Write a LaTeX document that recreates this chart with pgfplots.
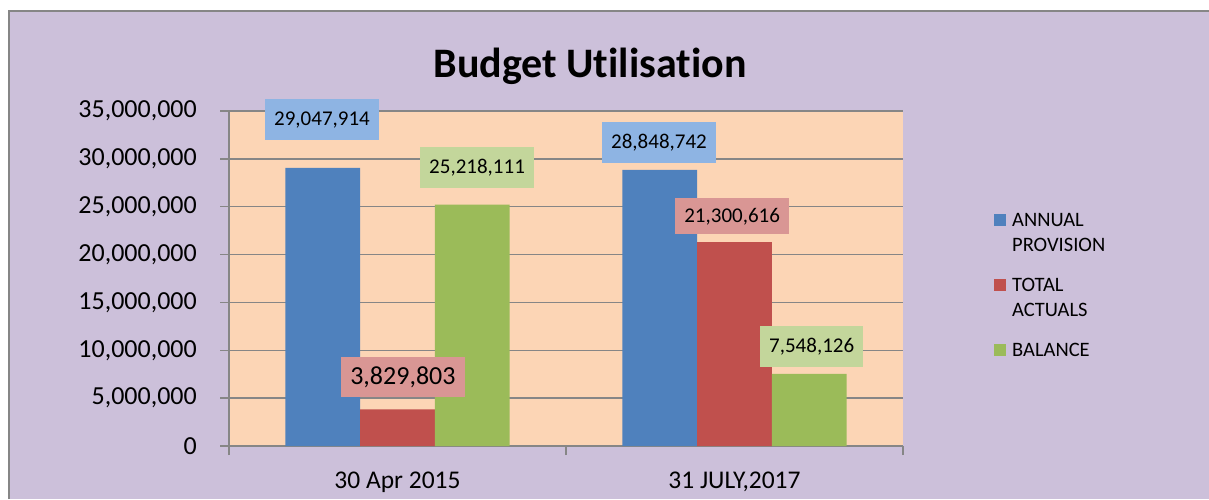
\documentclass[border=0pt]{standalone}
\usepackage{fontspec}
\setmainfont[Ligatures=NoCommon]{Carlito}
\usepackage{pgfplots}
\pgfplotsset{compat=1.18}
\definecolor{lav}{HTML}{CCC0DA}
\definecolor{peach}{HTML}{FCD5B5}
\definecolor{framec}{HTML}{868686}
\definecolor{cblue}{HTML}{4F81BD}
\definecolor{cred}{HTML}{C0504D}
\definecolor{cgreen}{HTML}{9BBB59}
\definecolor{lblue}{HTML}{8EB4E3}
\definecolor{lred}{HTML}{D99694}
\definecolor{lgreen}{HTML}{C3D69B}
\newcommand{\twoline}[2]{\vtop{\hbox{\kern4pt\strut #1}\hbox{\kern4pt\strut #2}}}
\begin{document}
\begin{tikzpicture}
\useasboundingbox (0pt,0pt) rectangle (1209pt,499pt);
\fill[lav] (9pt,0pt) rectangle (1209pt,487.5pt);
\draw[framec, line width=2pt] (9pt,0pt) -- (9pt,487.5pt) -- (1209pt,487.5pt);
\node[anchor=base, inner sep=0pt, font=\fontsize{42}{48}\selectfont\bfseries] at (590pt,421pt) {Budget Utilisation};
\begin{axis}[
  at={(229pt,53pt)}, anchor=south west, scale only axis,
  width=674pt, height=335pt,
  xmin=-0.5, xmax=1.5, ymin=0, ymax=35000000,
  ybar, bar width=0.2217,
  clip=false,
  axis background/.style={fill=peach},
  axis lines*=left,
  axis line style={draw=framec, line width=1.3pt, -},
  ymajorgrids, grid style={draw=framec, line width=1.3pt},
  tick align=outside, major tick length=9pt,
  tick style={draw=framec, line width=1.3pt},
  ytick={0,5000000,10000000,15000000,20000000,25000000,30000000,35000000},
  scaled y ticks=false,
  /pgf/number format/.cd, fixed, 1000 sep={,}, assume math mode=true, /pgfplots/.cd,
  yticklabel style={font=\fontsize{26}{30}\selectfont, anchor=east, inner xsep=0pt, xshift=-23pt},
  xtick={-0.5,0.5,1.5}, xticklabels={},
  extra x ticks={0,1},
  extra x tick labels={{30 Apr 2015},{31 JULY,2017}},
  extra x tick style={major tick length=0pt, tick style={draw=none},
    xticklabel style={font=\fontsize{25.5}{30}\selectfont, anchor=base, yshift=-42pt}},
  legend style={at={(axis description cs:1.135,0.715)}, anchor=north west,
    draw=none, fill=none, inner sep=0pt, font=\fontsize{20.5}{25}\selectfont,
    row sep=42pt, cells={anchor=base west}},
  legend image code/.code={\fill[#1] (0pt,0pt) rectangle (12pt,12pt);},
]
\addplot[fill=cblue, draw=none, bar shift=-0.2217] coordinates {(0,29047914) (1,28848742)};
\addlegendentry{\twoline{ANNUAL}{PROVISION}}
\addplot[fill=cred, draw=none, bar shift=0] coordinates {(0,3829803) (1,21300616)};
\addlegendentry{\twoline{TOTAL}{ACTUALS}}
\addplot[fill=cgreen, draw=none, bar shift=0.2217] coordinates {(0,25218111) (1,7548126)};
\addlegendentry{\kern4pt\strut BALANCE}
\node[fill=lblue, inner xsep=9pt, minimum height=41pt, font=\fontsize{21}{25}\selectfont] at (axis cs:-0.224,34060000) {29,047,914};
\node[fill=lred, inner xsep=9.5pt, minimum height=40pt, font=\fontsize{26}{30}\selectfont] at (axis cs:0.016,7210000) {3,829,803};
\node[fill=lgreen, inner xsep=9pt, minimum height=41pt, font=\fontsize{21}{25}\selectfont] at (axis cs:0.236,29100000) {25,218,111};
\node[fill=lblue, inner xsep=9pt, minimum height=41pt, font=\fontsize{21}{25}\selectfont] at (axis cs:0.776,31710000) {28,848,742};
\node[fill=lred, inner xsep=9pt, minimum height=36pt, font=\fontsize{21}{25}\selectfont] at (axis cs:0.993,23980000) {21,300,616};
\node[fill=lgreen, inner xsep=9pt, minimum height=41pt, font=\fontsize{21}{25}\selectfont] at (axis cs:1.229,10400000) {7,548,126};
\end{axis}
\end{tikzpicture}
\end{document}
